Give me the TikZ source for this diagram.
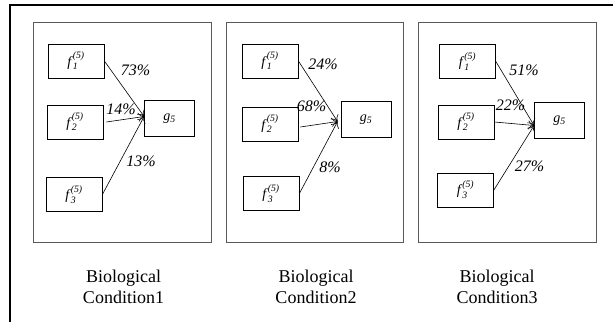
\documentclass[tikz,border=0pt]{standalone}
\usepackage{amsmath}
\usepackage{fontspec}
\setmainfont{Liberation Serif}
\usetikzlibrary{arrows.meta}
% factor node label f_i^{(5)} and target label g_5, set in text italics
\newcommand\flab[1]{\textit{f}$_{\textit{#1}}^{\textit{(5)}}$}
\newcommand\glab{\textit{g}$_{\textit{5}}$}
\begin{document}
\begin{tikzpicture}[x=1pt,y=-1pt,
  panel/.style={draw=black!65, line width=0.9pt},
  fbox/.style={draw, line width=0.8pt, minimum width=56pt, minimum height=34pt,
    inner sep=0pt, font=\fontsize{14}{16}\selectfont},
  gbox/.style={draw, line width=0.8pt, minimum width=50pt, minimum height=36pt,
    inner sep=0pt, font=\fontsize{14}{16}\selectfont},
  wt/.style={inner sep=0pt, font=\fontsize{16}{18}\selectfont\itshape},
  link/.style={line width=0.6pt, -{To[length=6pt,width=9pt]}},
  caption/.style={align=center, anchor=base, inner sep=0pt,
    font=\fontsize{18}{21}\selectfont}
]
\useasboundingbox (0,0) rectangle (613,322);

% outer frame (left and top edges)
\draw[line width=1.5pt] (10,322) -- (10,5) -- (613,5);

% panels
\draw[panel] (33,22) rectangle (211,242);
\draw[panel] (226,22) rectangle (403,242);
\draw[panel] (418,22) rectangle (596,242);

% ---- condition 1
\node[fbox] (a1) at (76,61) {\flab{1}};
\node[fbox] (a2) at (75,122) {\flab{2}};
\node[fbox] (a3) at (74,194.5) {\flab{3}};
\node[gbox] (ag) at (169.5,118.5) {\glab};
\coordinate (ap) at ([yshift=2pt]ag.west);
\draw[link] (a1.east) -- (ap);
\draw[link] ([xshift=3pt]a2.east) -- (ap);
\draw[link] (a3.east) -- (ap);
\node[wt] (aw1) at (135.5,70) {73\%};
\node[wt] (aw2) at (121,109) {14\%};
\node[wt] (aw3) at (141,161) {13\%};
\node[caption] (ac) at (123.5,303) {Biological\\Condition1};

% ---- condition 2
\node[fbox] (b1) at (270,61) {\flab{1}};
\node[fbox] (b2) at (270,124) {\flab{2}};
\node[fbox] (b3) at (271,193.5) {\flab{3}};
\node[gbox] (bg) at (366,119.5) {\glab};
\coordinate (bp) at ([xshift=-3pt,yshift=-2pt]bg.west);
\draw[link] (b1.east) -- (bp);
\draw[link] ([xshift=2pt,yshift=-3pt]b2.east) -- (bp);
\draw[link] (b3.east) -- (bp);
\node[wt] (bw1) at (323,64.5) {24\%};
\node[wt] (bw2) at (311.5,106) {68\%};
\node[wt] (bw3) at (330,167.5) {8\%};
\node[caption] (bc) at (316,303) {Biological\\Condition2};

% ---- condition 3
\node[fbox] (c1) at (467.5,61.5) {\flab{1}};
\node[fbox] (c2) at (466,122) {\flab{2}};
\node[fbox] (c3) at (465.5,190) {\flab{3}};
\node[gbox] (cg) at (559.5,120.5) {\glab};
\coordinate (cp) at ([yshift=-5pt]cg.west);
\draw[link] (c1.east) -- (cp);
\draw[link] (c2.east) -- (cp);
\draw[link] (c3.east) -- (cp);
\node[wt] (cw1) at (524,70.5) {51\%};
\node[wt] (cw2) at (510.5,105) {22\%};
\node[wt] (cw3) at (529.5,166) {27\%};
\node[caption] (cc) at (497,303) {Biological\\Condition3};
\end{tikzpicture}
\end{document}
